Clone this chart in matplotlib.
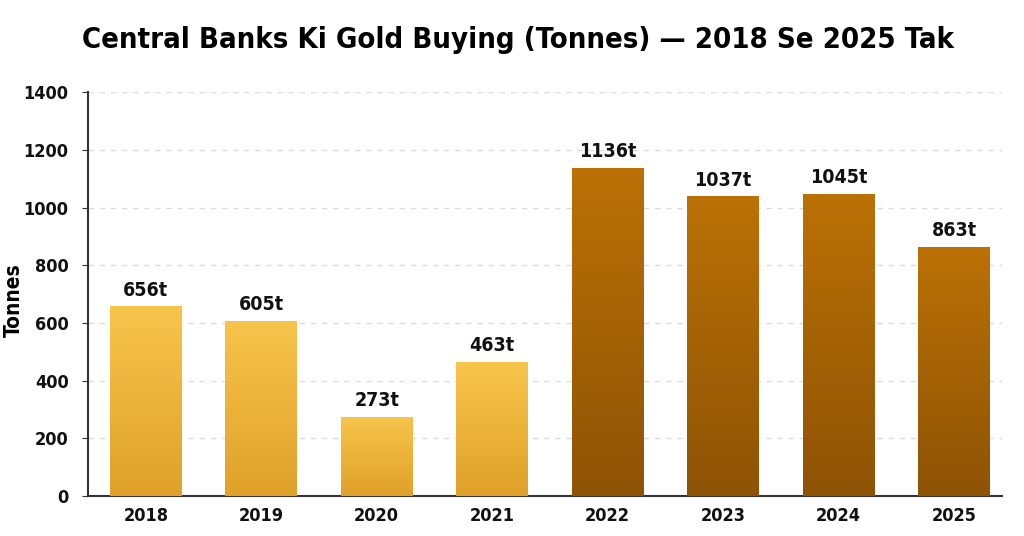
import numpy as np
import matplotlib
matplotlib.use("Agg")
import matplotlib.pyplot as plt
from matplotlib.colors import LinearSegmentedColormap

years = ["2018", "2019", "2020", "2021", "2022", "2023", "2024", "2025"]
tonnes = [656, 605, 273, 463, 1136, 1037, 1045, 863]
labels = ["656t", "605t", "273t", "463t", "1136t", "1037t", "1045t", "863t"]

light = LinearSegmentedColormap.from_list("light", ["#DFA12A", "#F8C44B"])
dark = LinearSegmentedColormap.from_list("dark", ["#8E5305", "#BB7106"])

FONT = ["DejaVu Sans"]


def main() -> None:
    fig = plt.figure(figsize=(10.24, 5.36), dpi=100)
    ax = fig.add_axes([0.086, 0.0746, 0.893, 0.7534])

    x = np.arange(len(years))
    bars = ax.bar(x, tonnes, width=0.62, color="none", zorder=3)
    grad = np.linspace(0, 1, 256).reshape(-1, 1)
    for i, b in enumerate(bars):
        cmap = light if i < 4 else dark
        x0, w, h = b.get_x(), b.get_width(), b.get_height()
        ax.imshow(grad, cmap=cmap, origin="lower", aspect="auto",
                  extent=(x0, x0 + w, 0, h), zorder=3)
        ax.text(x0 + w / 2, h + 25, labels[i], ha="center", va="bottom",
                fontsize=14, fontweight="bold", fontstretch="condensed",
                family=FONT, color="#111111", zorder=4)

    ax.set_xlim(-0.5, 7.42)
    ax.set_ylim(0, 1400)
    ax.set_yticks(range(0, 1401, 200))
    ax.set_xticks(x)
    ax.set_xticklabels(years)
    for t in ax.get_xticklabels() + ax.get_yticklabels():
        t.set_fontsize(13)
        t.set_fontweight("bold")
        t.set_fontstretch("condensed")
        t.set_family(FONT)
        t.set_color("#111111")
    ax.tick_params(axis="x", length=0, pad=8)
    ax.tick_params(axis="y", length=4, color="#333333", pad=10)
    ax.set_ylabel("Tonnes", fontsize=15, fontweight="bold", family=FONT,
                  fontstretch="condensed")
    ax.yaxis.set_label_coords(-0.07, 0.485)
    ax.grid(axis="y", linestyle=(0, (4, 4)), color="#dddddd", linewidth=1, zorder=0)
    ax.set_axisbelow(True)
    for s in ["top", "right"]:
        ax.spines[s].set_visible(False)
    ax.spines["left"].set_color("#333333")
    ax.spines["bottom"].set_color("#333333")
    ax.spines["left"].set_linewidth(1.5)
    ax.spines["bottom"].set_linewidth(1.5)

    fig.text(0.506, 0.925, "Central Banks Ki Gold Buying (Tonnes) \u2014 2018 Se 2025 Tak",
             ha="center", va="center", fontsize=21, fontweight="bold",
             fontstretch="condensed", family=FONT, color="#000000")

    fig.savefig("out.png", dpi=100)


if __name__ == "__main__":
    main()
